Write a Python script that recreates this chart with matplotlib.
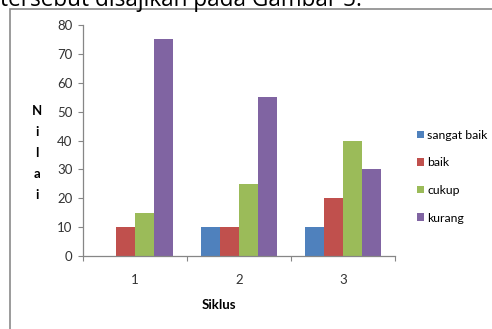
import numpy as np
import matplotlib.pyplot as plt
from matplotlib.patches import Rectangle

siklus = ['1', '2', '3']
series = ['sangat baik', 'baik', 'cukup', 'kurang']
sangat_baik = [0, 10, 10]
baik = [10, 10, 20]
cukup = [15, 25, 40]
kurang = [75, 55, 30]
colors = ['#4F81BD', '#C0504D', '#9BBB59', '#8064A2']

plt.rcParams['font.family'] = ['Lato', 'DejaVu Sans']

fig = plt.figure(figsize=(4.92, 3.29), dpi=100)
ax = fig.add_axes([83 / 492, 1 - 256 / 329, 312 / 492, 231 / 329])

# Excel-like layout: gap width 150% -> bar width = 1 / 5.5 of category
x = np.arange(len(siklus)) + 1
w = 1 / 5.5
values = [sangat_baik, baik, cukup, kurang]
for i, (name, vals) in enumerate(zip(series, values)):
    ax.bar(x + (i - 1.5) * w, vals, width=w, color=colors[i], label=name)

ax.set_xlim(0.5, 3.5)
ax.set_ylim(0, 80)
ax.set_yticks(range(0, 81, 10))
ax.set_xticks([0.5, 1.5, 2.5, 3.5])
ax.set_xticklabels([])
ax.set_xticks(x, minor=True)
ax.set_xticklabels(siklus, minor=True)
ax.tick_params(axis='x', which='major', length=3.6, color='#868686')
ax.tick_params(axis='x', which='minor', length=0, pad=13, labelsize=9.5, labelcolor='#333333')
ax.tick_params(axis='y', length=3.6, color='#868686', labelsize=9.5, labelcolor='#333333', pad=4)

for s in ['top', 'right']:
    ax.spines[s].set_visible(False)
for s in ['left', 'bottom']:
    ax.spines[s].set_color('#868686')
    ax.spines[s].set_linewidth(0.9)

fig.text(219 / 492, 1 - 305 / 329, 'Siklus', ha='center', va='center',
         fontsize=9.5, fontweight='bold')
fig.text(37 / 492, 1 - 153 / 329, 'N\ni\nl\na\ni', ha='center', va='center',
         fontsize=9.5, fontweight='bold', linespacing=1.9)

fig.legend(loc='upper left', bbox_to_anchor=(417 / 492, 1 - 130 / 329),
           frameon=False, borderpad=0, borderaxespad=0, fontsize=8.8,
           handlelength=0.55, handleheight=0.55, handletextpad=0.3,
           labelspacing=1.35)

# outer chart frame and cut-off caption text
fig.patches.append(Rectangle((10 / 492, -0.1), 1.2, 1 - 9 / 329 + 0.1,
                             transform=fig.transFigure, fill=False,
                             edgecolor='#8a8a8a', linewidth=1.2))
fig.text(0.0, 1 - 5.5 / 329, 'tersebut disajikan pada Gambar 5.', ha='left',
         va='baseline', fontsize=16.3, family=['Open Sans', 'DejaVu Sans'])

fig.savefig('out.png', dpi=100)
